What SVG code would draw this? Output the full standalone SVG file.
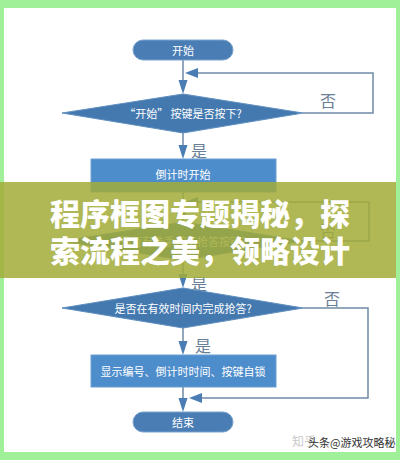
<svg xmlns="http://www.w3.org/2000/svg" width="400" height="460" viewBox="0 0 400 460">
<defs>
<style>
.t{font-family:"Noto Sans CJK SC","Noto Sans",sans-serif;fill:#fff;font-size:11px;text-anchor:middle;dominant-baseline:central}
.lbl{font-family:"Noto Sans CJK SC","Noto Sans",sans-serif;fill:#6a7f95;font-size:16px;text-anchor:middle;dominant-baseline:central}
.pill{fill:#4a7db4;stroke:#7aa3cf;stroke-width:1}
.dia{fill:#4479b0;stroke:#5f8fc0;stroke-width:1}
.box{fill:#4e8dcc;stroke:#6d9fd3;stroke-width:1}
.ln{fill:none;stroke:#6f8aa6;stroke-width:1.5}
.ah{fill:#4a7db4}
.ban{font-family:"Noto Sans CJK SC","Noto Sans",sans-serif;fill:#fff;font-size:30px;font-weight:900;text-anchor:middle;dominant-baseline:central}
</style>
</defs>
<rect x="0" y="0" width="400" height="460" fill="#a0f09a"/>
<rect x="4" y="8" width="392" height="444" fill="#ffffff"/>
<g id="connectors">
<line class="ln" x1="183" y1="60" x2="183" y2="82"/>
<polygon class="ah" points="178.5,80 187.5,80 183,94"/>
<polyline class="ln" points="303,113 373,113 373,73 195,73"/>
<polygon class="ah" points="198,68 198,78 185,73"/>
<line class="ln" x1="183" y1="133" x2="183" y2="147"/>
<polygon class="ah" points="178.5,145 187.5,145 183,159"/>
<line class="ln" x1="183" y1="192" x2="183" y2="210"/>
<polygon class="ah" points="178.5,208 187.5,208 183,222"/>
<polyline class="ln" points="303,241 369,241 369,202 195,202"/>
<polygon class="ah" points="198,197 198,207 185,202"/>
<line class="ln" x1="183" y1="260" x2="183" y2="276"/>
<polygon class="ah" points="178.5,274 187.5,274 183,288"/>
<line class="ln" x1="183" y1="328" x2="183" y2="343"/>
<polygon class="ah" points="178.5,341 187.5,341 183,355"/>
<polyline class="ln" points="303,308 368,308 368,398 200,398"/>
<polygon class="ah" points="202,393 202,403 189,398"/>
<line class="ln" x1="183" y1="387" x2="183" y2="400"/>
<polygon class="ah" points="178.5,398 187.5,398 183,412"/>
<text class="lbl" x="328" y="100">否</text>
<text class="lbl" x="199" y="150">是</text>
<text class="lbl" x="328" y="230">否</text>
<text class="lbl" x="199" y="283">是</text>
<text class="lbl" x="332" y="298">否</text>
<text class="lbl" x="203" y="345">是</text>
</g>
<g id="start">
<rect class="pill" x="133" y="40" width="100" height="20" rx="10"/>
<text class="t" x="183" y="50">开始</text>
</g>
<g id="d1">
<polygon class="dia" points="62,113 183,94 303,113 183,133"/>
<text class="t" x="183" y="113">“开始” 按键是否按下?</text>
</g>
<g id="b1">
<rect class="box" x="91" y="159" width="185" height="33"/>
<text class="t" x="183" y="174">倒计时开始</text>
</g>
<g id="d2">
<polygon class="dia" points="62,241 183,222 303,241 183,260"/>
<text class="t" x="183" y="241">是否有选手按下抢答按键?</text>
</g>
<g id="d3">
<polygon class="dia" points="62,308 183,288 303,308 183,328"/>
<text class="t" x="183" y="308">是否在有效时间内完成抢答?</text>
</g>
<g id="b2">
<rect class="box" x="91" y="355" width="185" height="32"/>
<text class="t" x="183" y="371">显示编号、倒计时时间、按键自锁</text>
</g>
<g id="end">
<rect class="pill" x="133" y="412" width="100" height="20" rx="10"/>
<text class="t" x="183" y="422">结束</text>
</g>
<g id="banner">
<rect x="0" y="182" width="396" height="96" fill="#a2ac38" fill-opacity="0.85"/>
<text class="ban" x="200" y="212">程序框图专题揭秘，探</text>
<text class="ban" x="200" y="249">索流程之美，领略设计</text>
</g>
<g id="watermark">
<text x="292" y="446" font-family="'Noto Sans CJK SC',sans-serif" font-size="12" fill="#c8c8c8">知乎</text>
<text x="308" y="447" font-family="'Noto Sans CJK SC',sans-serif" font-size="11" fill="#333">头条@游戏攻略秘</text>
</g>
</svg>
